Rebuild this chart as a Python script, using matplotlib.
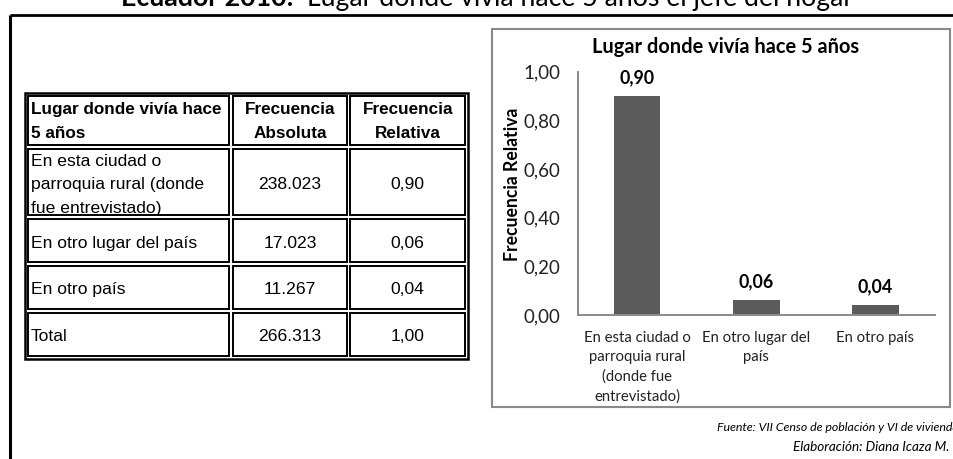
import matplotlib
matplotlib.use("Agg")
import matplotlib.pyplot as plt
from matplotlib.patches import Rectangle
from matplotlib.ticker import FuncFormatter
import numpy as np

plt.rcParams['font.family'] = ['Lato', 'DejaVu Sans']

# data
places = ['En esta ciudad o\nparroquia rural (donde\nfue entrevistado)',
          'En otro lugar del país', 'En otro país', 'Total']
abs_freq = [238023, 17023, 11267, 266313]
rel_freq = [0.90, 0.06, 0.04, 1.00]
table_header = ['Lugar donde vivía hace\n5 años', 'Frecuencia\nAbsoluta', 'Frecuencia\nRelativa']
bar_labels = ['En esta ciudad o\nparroquia rural\n(donde fue\nentrevistado)',
              'En otro lugar del\npaís', 'En otro país']
bar_values = rel_freq[:3]
y_ticks = [0.0, 0.2, 0.4, 0.6, 0.8, 1.0]

W, H = 954, 459
fig = plt.figure(figsize=(W / 100, H / 100), dpi=100)

# overlay in pixel units, y pointing down
bg = fig.add_axes([0, 0, 1, 1])
bg.set_xlim(0, W)
bg.set_ylim(H, 0)
bg.axis('off')


def comma(v, dec=2):
    return f"{v:.{dec}f}".replace('.', ',')


def thousands(v):
    return f"{v:,}".replace(',', '.')


# page title (top half cut off in the reference)
bg.text(121, 6, 'Ecuador 2010:', fontsize=19.3, fontweight='bold', ha='left', va='baseline')
bg.text(307, 6, 'Lugar donde vivía hace 5 años el jefe del hogar', fontsize=19.2,
        ha='left', va='baseline')

# black outer frame
bg.plot([10.5, W], [14.7, 14.7], color='black', lw=2.0, solid_capstyle='butt')
bg.plot([10.5, 10.5], [14.7, H], color='black', lw=2.2, solid_capstyle='butt')

# table
col_x = [25, 231, 348.7, 468]
row_y = [92.7, 147.2, 217.2, 263.7, 311.3, 359.3]
bg.add_patch(Rectangle((col_x[0], row_y[0]), col_x[-1] - col_x[0], row_y[-1] - row_y[0],
                       fill=False, ec='black', lw=1.8))
for r in range(len(row_y) - 1):
    for c in range(len(col_x) - 1):
        x0, x1 = col_x[c] + 3.3, col_x[c + 1] - 2.0
        y0, y1 = row_y[r] + 3.3, row_y[r + 1] - 2.0
        if c > 0:
            x0 = col_x[c] + 1.7
        if r > 0:
            y0 = row_y[r] + 2.0
        if c == len(col_x) - 2:
            x1 = col_x[-1] - 3.3
        if r == len(row_y) - 2:
            y1 = row_y[-1] - 3.6
        bg.add_patch(Rectangle((x0, y0), x1 - x0, y1 - y0, fill=False, ec='black', lw=1.4))

line_gap = 23.3


def cell_text(txt, x, yc, ha, **kw):
    lines = txt.split('\n')
    n = len(lines)
    for i, ln in enumerate(lines):
        bg.text(x, yc + (i - (n - 1) / 2) * line_gap, ln, ha=ha, va='center_baseline',
                family=['Liberation Sans', 'DejaVu Sans'], **kw)


col_cx = [30.7, 290, 407.8]
row_cy = [120, 183.3, 241.7, 288.3, 335]
for c, h in enumerate(table_header):
    cell_text(h, col_cx[c], row_cy[0], 'left' if c == 0 else 'center',
              fontsize=12.3, fontweight='bold')
for r in range(len(places)):
    cell_text(places[r], col_cx[0], row_cy[r + 1], 'left', fontsize=12.6)
    cell_text(thousands(abs_freq[r]), col_cx[1], row_cy[r + 1], 'center', fontsize=12.6)
    cell_text(comma(rel_freq[r]), col_cx[2], row_cy[r + 1], 'center', fontsize=12.6)

# chart box
bg.add_patch(Rectangle((491.7, 29.3), 950 - 491.7, 406.7 - 29.3, fill=False,
                       ec='#8a8a8a', lw=1.5))
bg.text(725.8, 46.7, 'Lugar donde vivía hace 5 años', fontsize=14.4, fontweight='bold',
        ha='center', va='center')

# bar chart
ax_l, ax_r, ax_b, ax_t = 577.7, 935, 315, 71.7
ax = fig.add_axes([ax_l / W, (H - ax_b) / H, (ax_r - ax_l) / W, (ax_b - ax_t) / H])
ax.patch.set_alpha(0)
x = np.arange(len(bar_values))
bars = ax.bar(x, bar_values, width=0.39, color='#5b5b5b')
ax.set_xlim(-0.5, len(bar_values) - 0.5)
ax.set_ylim(0, 1)
ax.set_yticks(y_ticks)
ax.yaxis.set_major_formatter(FuncFormatter(lambda v, p: comma(v)))
ax.set_xticks(x)
ax.set_xticklabels(bar_labels, fontsize=10.7, linespacing=1.47, color='#222222')
for s in ['top', 'right']:
    ax.spines[s].set_visible(False)
for s in ['left', 'bottom']:
    ax.spines[s].set_color('#8a8a8a')
    ax.spines[s].set_linewidth(1.4)
ax.tick_params(axis='y', length=0, pad=12.5, labelsize=13.5, labelcolor='#222222')
ax.tick_params(axis='x', length=0, pad=11.5)
ax.set_ylabel('Frecuencia Relativa', fontsize=12.7, fontweight='bold')
ax.yaxis.set_label_coords(-0.16, 0.538)
for b, v in zip(bars, bar_values):
    ax.annotate(comma(v), (b.get_x() + b.get_width() / 2, v), xytext=(0, 13.3),
                textcoords='offset points', ha='center', va='center',
                fontsize=12.8, fontweight='bold')

# source notes (cut at the right edge in the reference)
bg.text(716.7, 430.7, 'Fuente: VII Censo de población y VI de vivienda', fontsize=8.9,
        style='italic', ha='left', va='baseline')
bg.text(793, 451, 'Elaboración: Diana Icaza M.', fontsize=9.7, style='italic',
        ha='left', va='baseline')

fig.savefig('out.png', dpi=100)
